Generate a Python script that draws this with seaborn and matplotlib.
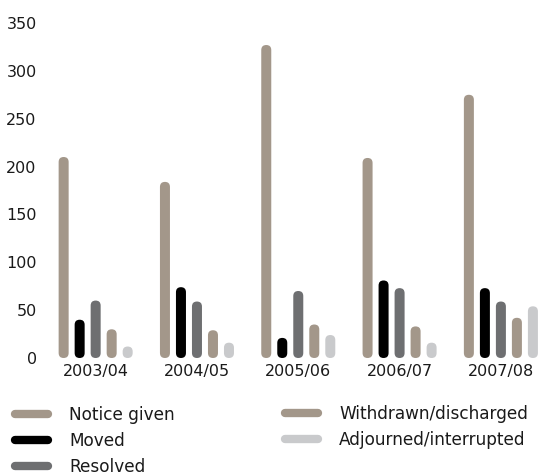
import matplotlib
matplotlib.use("Agg")
import matplotlib.pyplot as plt
import seaborn as sns
import pandas as pd
from matplotlib.patches import FancyBboxPatch
from matplotlib.lines import Line2D

# Court case outcomes per financial year
years = ["2003/04", "2004/05", "2005/06", "2006/07", "2007/08"]
notice_given = [210, 184, 327, 209, 275]
moved = [40, 74, 21, 81, 73]
resolved = [60, 59, 70, 73, 59]
withdrawn = [30, 29, 35, 33, 42]
adjourned = [12, 16, 24, 16, 54]

series_names = ["Notice given", "Moved", "Resolved",
                "Withdrawn/discharged", "Adjourned/interrupted"]
series_values = [notice_given, moved, resolved, withdrawn, adjourned]
colors = ["#a3978a", "#000000", "#6e6f71", "#a3978a", "#c9cacc"]
y_ticks = [0, 50, 100, 150, 200, 250, 300, 350]

rows = []
for name, vals in zip(series_names, series_values):
    for yr, v in zip(years, vals):
        rows.append({"year": yr, "series": name, "value": v})
df = pd.DataFrame(rows)

sns.set_style("white")
plt.rcParams["font.family"] = ["DejaVu Sans"]
plt.rcParams["text.color"] = "#1a1a1a"

W, H = 539, 473
fig = plt.figure(figsize=(W / 100, H / 100), dpi=100)
ax = fig.add_axes([45 / W, (H - 358) / H, (W - 45) / W, (358 - 23) / H])

sns.barplot(data=df, x="year", y="value", hue="series",
            hue_order=series_names, order=years,
            palette=dict(zip(series_names, colors)),
            width=0.79, gap=0.375, legend=False, ax=ax,
            saturation=1, errorbar=None)

ax.set_xlim(-0.5, (W - 95.7) / 101.3)
ax.set_ylim(0, 350)
ax.set_yticks(y_ticks)
ax.set_xlabel("")
ax.set_ylabel("")
sns.despine(ax=ax, left=True, bottom=True)
ax.tick_params(axis="both", length=0, labelsize=11.5, colors="#1a1a1a")
ax.tick_params(axis="y", pad=6)
ax.tick_params(axis="x", pad=4)

# Swap the plain rectangles for pill-shaped bars
p0 = ax.transData.transform((0, 0))
p1 = ax.transData.transform((1, 1))
px_x = p1[0] - p0[0]
px_y = p1[1] - p0[1]
aspect = px_x / px_y
for bar in list(ax.patches):
    x, w, h = bar.get_x(), bar.get_width(), bar.get_height()
    fc = bar.get_facecolor()
    bar.remove()
    ax.add_patch(FancyBboxPatch((x, 0), w, h,
                                boxstyle=f"round,pad=0,rounding_size={w / 2}",
                                mutation_aspect=aspect, fc=fc, ec="none",
                                clip_on=False))

handles = [Line2D([0], [0], color=c, lw=6, solid_capstyle="round")
           for c in colors]
common = dict(frameon=False, handlelength=1.95, handletextpad=1.25,
              labelspacing=0.46, borderpad=0, borderaxespad=0,
              fontsize=12.2, loc="upper left")
leg1 = fig.legend(handles[:3], series_names[:3],
                  bbox_to_anchor=(15 / W, (H - 406) / H), **common)
leg2 = fig.legend(handles[3:], series_names[3:],
                  bbox_to_anchor=(285 / W, (H - 405) / H), **common)

fig.savefig("out.png", dpi=100)
